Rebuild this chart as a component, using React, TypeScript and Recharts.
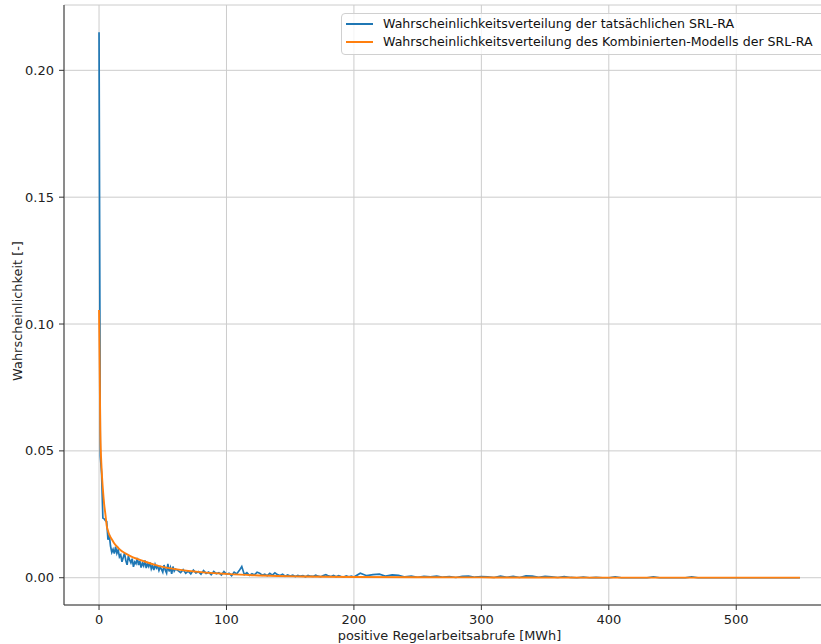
import { LineChart, Line, XAxis, YAxis, CartesianGrid, Legend } from 'recharts'

// Measured distribution of positive control-energy calls (MWh bins)
const actualX = [
  0, 1, 2, 3, 4, 5, 6, 7, 8, 9, 10, 11, 12, 13, 14, 15, 16, 17, 18, 19,
  20, 21, 22, 23, 24, 25, 26, 27, 28, 29, 30, 31, 32, 33, 34, 35, 36, 37, 38, 39,
  40, 41, 42, 43, 44, 45, 46, 47, 48, 49, 50, 51, 52, 53, 54, 55, 56, 57, 58, 59, 60,
  62, 64, 66, 68, 70, 72, 74, 76, 78, 80, 82, 84, 86, 88, 90, 92, 94, 96, 98, 100,
  102, 104, 106, 108, 110, 112, 114, 116, 118, 120, 122, 124, 126, 128, 130, 132, 134, 136, 138, 140,
  142, 144, 146, 148, 150, 152, 154, 156, 158, 160, 162, 164, 166, 168, 170, 172, 174, 176, 178, 180,
  182, 184, 186, 188, 190, 192, 194, 196, 198, 200,
  205, 210, 215, 220, 225, 230, 235, 240, 245, 250, 255, 260, 265, 270, 275, 280, 285, 290, 295, 300,
  305, 310, 315, 320, 325, 330, 335, 340, 345, 350, 355, 360, 365, 370, 375, 380, 385, 390, 395, 400,
  405, 410, 415, 420, 425, 430, 435, 440, 445, 450, 455, 460, 465, 470, 475, 480, 485, 490, 495, 500,
  505, 510, 515, 520, 525, 530, 535, 540, 545, 550,
]
const actualProb = [
  0.215, 0.048, 0.041, 0.0235, 0.0232, 0.0225, 0.0222, 0.015, 0.017, 0.0125,
  0.01, 0.0112, 0.0095, 0.0122, 0.0096, 0.011, 0.0082, 0.009, 0.0063, 0.008,
  0.0097, 0.0068, 0.0051, 0.0085, 0.007, 0.0059, 0.0075, 0.0043, 0.0062, 0.0055,
  0.0078, 0.005, 0.0066, 0.004, 0.0058, 0.0047, 0.0068, 0.0038, 0.0055, 0.0044,
  0.006, 0.0035, 0.0048, 0.003, 0.0052, 0.0038, 0.0045, 0.0028, 0.0042, 0.0033,
  0.0022, 0.005, 0.003, 0.0018, 0.0055, 0.0025, 0.004, 0.0015, 0.0044, 0.0026, 0.0034,
  0.0028, 0.002, 0.0032, 0.0018, 0.0026, 0.0015, 0.003, 0.0019, 0.0024, 0.0014,
  0.0028, 0.0017, 0.0022, 0.0012, 0.0025, 0.0016, 0.002, 0.0011, 0.0024, 0.0014,
  0.0018, 0.0008, 0.0022, 0.0015, 0.0028, 0.0044, 0.0012, 0.002, 0.0009, 0.0016,
  0.0011, 0.0022, 0.0018, 0.001, 0.0014, 0.0008, 0.0017, 0.001, 0.0019, 0.0012,
  0.0009, 0.0014, 0.0006, 0.0011, 0.0007, 0.001, 0.0005, 0.0009, 0.0006, 0.0008,
  0.0004, 0.0009, 0.0006, 0.0005, 0.001, 0.0006, 0.0004, 0.0009, 0.0012, 0.0007,
  0.0005, 0.0009, 0.0004, 0.0008, 0.0005, 0.0003, 0.0007, 0.0004, 0.0006, 0.0003,
  0.0018, 0.0008, 0.0012, 0.0014, 0.0006, 0.0011, 0.0009, 0.0003, 0.0006, 0.0002,
  0.0005, 0.0003, 0.0006, 0.0002, 0.0004, 0.0001, 0.0005, 0.0006, 0.0002, 0.0004,
  0.0003, 0.0001, 0.0006, 0.0002, 0.0005, 0.0001, 0.0007, 0.0006, 0.0002, 0.0005,
  0.0003, 0.0001, 0.0004, 0.0001, 0, 0.0002, 0, 0.0001, 0, 0,
  0.0003, 0, 0, 0, 0, 0, 0.0003, 0, 0, 0,
  0, 0, 0.0003, 0, 0, 0, 0, 0, 0, 0,
  0, 0, 0, 0, 0, 0, 0, 0, 0, 0,
]

// Fitted combined model
const modelX = [
  0, 1, 2, 3, 4, 5, 6, 7, 8, 10, 12, 15, 18, 21, 25, 30, 37, 44, 50, 60,
  70, 76, 90, 100, 120, 140, 160, 200, 250, 300, 400, 550,
]
const modelProb = [
  0.1055, 0.058, 0.043, 0.035, 0.029, 0.025, 0.0205, 0.0185, 0.017, 0.0152,
  0.0135, 0.0118, 0.0104, 0.0095, 0.0084, 0.0074, 0.0062, 0.0051, 0.0043, 0.0034,
  0.0027, 0.0024, 0.0018, 0.0015, 0.001, 0.0007, 0.0005, 0.0003, 0.00018, 0.00012,
  0.00006, 0.00003,
]

const xTicks = [0, 100, 200, 300, 400, 500]
const yTicks = [0, 0.05, 0.1, 0.15, 0.2]

const BLUE = '#1f77b4'
const ORANGE = '#ff7f0e'
const FONT = '"DejaVu Sans", sans-serif'

const seriesNames = [
  'Wahrscheinlichkeitsverteilung der tatsächlichen SRL-RA',
  'Wahrscheinlichkeitsverteilung des Kombinierten-Modells der SRL-RA',
]

function LegendBox() {
  const rows = [
    { name: seriesNames[0], color: BLUE },
    { name: seriesNames[1], color: ORANGE },
  ]
  return (
    <div
      style={{
        position: 'relative',
        width: 487,
        height: 42,
        boxSizing: 'border-box',
        border: '1px solid #d0d0d0',
        borderRadius: 4,
        background: 'rgba(255,255,255,0.8)',
        fontFamily: FONT,
        fontSize: 12.6,
        color: '#111',
      }}
    >
      {rows.map((r, i) => (
        <div key={r.name} style={{ position: 'absolute', left: 0, top: 10 + i * 18.3 - 9, height: 18, width: '100%' }}>
          <span
            style={{ position: 'absolute', left: 4, top: 8, width: 27, height: 0, borderTop: `2px solid ${r.color}` }}
          />
          <span style={{ position: 'absolute', left: 41, top: 0, lineHeight: '18px', whiteSpace: 'nowrap' }}>
            {r.name}
          </span>
        </div>
      ))}
    </div>
  )
}

export default function App() {
  const actual = actualX.map((x, i) => ({ x, p: actualProb[i] }))
  const model = modelX.map((x, i) => ({ x, p: modelProb[i] }))
  const tickStyle = { fontFamily: FONT, fontSize: 13, fill: '#222' }
  const labelStyle = { fontFamily: FONT, fontSize: 12.9, fill: '#222' }

  return (
    <div style={{ position: 'fixed', left: 0, top: 0, width: 821, height: 644, overflow: 'hidden', background: '#fff' }}>
      <LineChart width={836} height={644} margin={{ top: 5, right: 1, bottom: 0, left: 0 }}>
        <CartesianGrid stroke="#cccccc" strokeWidth={1} />
        <XAxis
          dataKey="x"
          type="number"
          domain={[-27.5, 577.5]}
          allowDataOverflow
          ticks={xTicks}
          height={39}
          tick={tickStyle}
          tickSize={5}
          tickMargin={5}
          tickLine={{ stroke: '#333' }}
          axisLine={{ stroke: '#333' }}
          label={{ value: 'positive Regelarbeitsabrufe [MWh]', position: 'insideBottom', offset: 4, style: labelStyle }}
        />
        <XAxis
          xAxisId="top"
          orientation="top"
          type="number"
          domain={[-27.5, 577.5]}
          allowDataOverflow
          height={0}
          tick={false}
          tickLine={false}
          axisLine={{ stroke: '#333' }}
        />
        <YAxis
          type="number"
          domain={[-0.01075, 0.22575]}
          allowDataOverflow
          ticks={yTicks}
          width={64}
          tick={tickStyle}
          tickFormatter={(v: number) => v.toFixed(2)}
          tickSize={5}
          tickMargin={5}
          tickLine={{ stroke: '#333' }}
          axisLine={{ stroke: '#333' }}
          label={{ value: 'Wahrscheinlichkeit [-]', angle: -90, position: 'center', dx: -15, dy: 6, style: labelStyle }}
        />
        <Line
          data={actual}
          dataKey="p"
          name={seriesNames[0]}
          stroke={BLUE}
          strokeWidth={1.7}
          dot={false}
          type="linear"
          isAnimationActive={false}
        />
        <Line
          data={model}
          dataKey="p"
          name={seriesNames[1]}
          stroke={ORANGE}
          strokeWidth={1.9}
          dot={false}
          type="monotone"
          isAnimationActive={false}
        />
        <Legend
          layout="vertical"
          align="center"
          verticalAlign="middle"
          wrapperStyle={{ left: 341, top: 13, width: 487, height: 42 }}
          content={() => <LegendBox />}
        />
      </LineChart>
    </div>
  )
}
